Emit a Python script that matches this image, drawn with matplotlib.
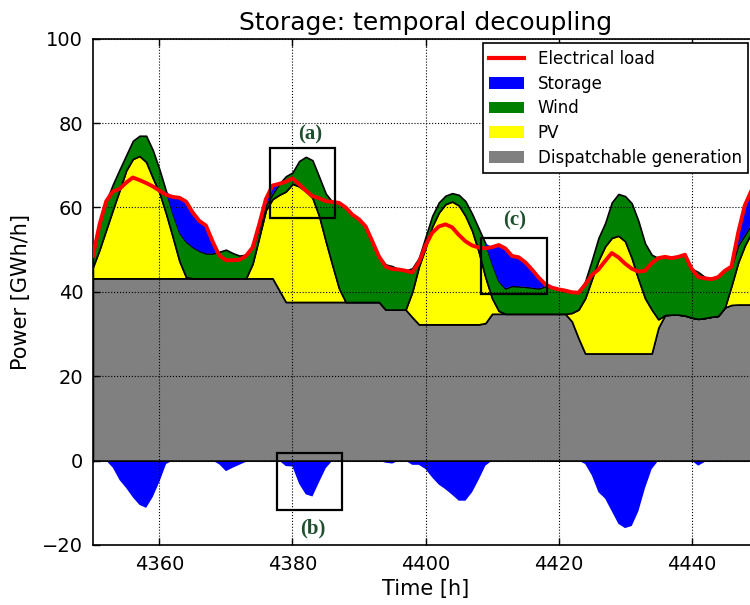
import matplotlib
matplotlib.use("Agg")
import matplotlib.pyplot as plt
import numpy as np
from matplotlib.lines import Line2D
from matplotlib.patches import Patch, Rectangle

# hourly values, GWh/h
hours = np.arange(4350, 4451)

dispatchable = [
    43.2, 43.2, 43.2, 43.2, 43.2, 43.2, 43.2, 43.2, 43.2, 43.2,
    43.2, 43.2, 43.2, 43.2, 43.2, 43.2, 43.2, 43.2, 43.2, 43.2,
    43.2, 43.2, 43.2, 43.2, 43.2, 43.2, 43.2, 43.2, 40.4, 37.6,
    37.6, 37.6, 37.6, 37.6, 37.6, 37.6, 37.6, 37.6, 37.6, 37.6,
    37.6, 37.6, 37.6, 37.6, 35.8, 35.8, 35.8, 35.8, 34.0, 32.3,
    32.3, 32.3, 32.3, 32.3, 32.3, 32.3, 32.3, 32.3, 32.3, 32.6,
    34.8, 34.8, 34.8, 34.8, 34.8, 34.8, 34.8, 34.8, 34.8, 34.8,
    34.8, 34.8, 33.0, 29.0, 25.4, 25.4, 25.4, 25.4, 25.4, 25.4,
    25.4, 25.4, 25.4, 25.4, 25.4, 31.5, 34.5, 34.6, 34.6, 34.4,
    33.9, 33.6, 33.8, 34.1, 34.3, 36.3, 36.9, 37.0, 37.0, 37.0,
    37.0,
]

pv = [
    2.7, 6.9, 11.6, 16.3, 20.9, 25.6, 28.3, 29.0, 27.6, 23.8,
    20.3, 15.3, 9.8, 4.1, 0.3, 0.0, 0.0, 0.0, 0.0, 0.0,
    0.0, 0.0, 0.0, 0.0, 3.5, 9.8, 16.2, 18.8, 22.6, 26.2,
    28.0, 27.4, 26.2, 24.7, 20.4, 14.4, 8.7, 3.2, 0.0, 0.0,
    0.0, 0.0, 0.0, 0.0, 0.0, 0.0, 0.0, 0.0, 6.0, 13.7,
    18.2, 23.2, 26.5, 28.5, 29.1, 28.2, 25.7, 22.2, 17.2, 10.9,
    3.7, 0.7, 0.0, 0.0, 0.0, 0.0, 0.0, 0.0, 0.0, 0.0,
    0.0, 0.0, 2.0, 6.8, 13.1, 17.6, 22.1, 25.4, 27.4, 27.9,
    26.6, 22.6, 17.6, 13.1, 10.4, 2.0, 0.0, 0.0, 0.0, 0.0,
    0.0, 0.0, 0.0, 0.0, 0.0, 0.0, 4.6, 10.0, 14.0, 17.0,
    20.0,
]

wind = [
    3.1, 5.9, 6.7, 6.0, 4.9, 3.6, 4.3, 4.8, 6.2, 6.6,
    5.5, 5.3, 5.5, 6.7, 8.4, 7.4, 6.5, 5.9, 5.9, 6.3,
    6.8, 6.0, 5.4, 5.6, 3.8, 2.0, 1.1, 1.2, 2.6, 3.6,
    2.7, 6.0, 8.2, 8.9, 9.3, 11.3, 15.0, 20.3, 22.4, 20.7,
    19.6, 17.9, 14.4, 10.8, 10.7, 10.3, 9.5, 9.2, 5.6, 2.0,
    2.5, 2.5, 2.4, 2.0, 2.0, 2.5, 3.5, 4.0, 5.5, 8.0,
    8.1, 7.0, 6.0, 6.6, 6.5, 6.4, 6.2, 6.0, 6.5, 6.2,
    5.8, 5.5, 4.9, 4.0, 4.0, 4.5, 5.3, 5.5, 8.4, 9.9,
    10.7, 13.0, 13.8, 13.0, 13.0, 14.5, 13.8, 13.4, 13.7, 14.4,
    11.6, 11.1, 9.7, 9.2, 9.5, 8.7, 4.5, 4.0, 2.5, 2.0,
    1.0,
]

# > 0: discharging, < 0: charging
storage = [
    -0.5, 0.0, 0.0, -1.7, -4.6, -6.5, -8.7, -10.5, -11.2, -8.6,
    -5.0, -0.8, 4.0, 8.3, 9.5, 8.2, 7.1, 6.6, 2.8, -0.9,
    -2.5, -1.7, -1.0, -0.3, 0.0, 1.0, 1.5, 2.0, 0.0, -1.3,
    -1.4, -5.5, -8.0, -8.5, -5.1, -1.8, 0.0, 0.0, 0.0, 0.0,
    0.0, 0.0, 0.0, 0.0, -0.5, -0.7, 0.0, 0.0, -1.0, -1.0,
    -2.0, -4.0, -5.7, -6.8, -8.1, -9.5, -9.5, -7.5, -4.5, -1.2,
    4.0, 8.6, 9.5, 7.1, 6.9, 5.8, 4.3, 2.6, 0.5, 0.0,
    0.0, 0.0, 0.0, 0.0, -0.8, -3.5, -7.5, -9.0, -12.0, -15.0,
    -16.0, -15.5, -12.0, -6.5, -2.0, 0.0, 0.0, 0.0, 0.0, 0.0,
    0.0, -1.2, -0.3, -0.3, -0.3, 0.0, 0.0, 3.0, 7.0, 8.0,
    8.0,
]

# highlighted windows: (label, hour range, power range)
highlights = [
    ("(a)", (4376.6, 4386.4), (57.4, 74.0)),
    ("(b)", (4377.7, 4387.5), (-11.6, 1.9)),
    ("(c)", (4408.4, 4418.3), (39.5, 52.7)),
]
label_pos = {"(a)": (4382.6, 77.4), "(b)": (4383.1, -16.1), "(c)": (4413.4, 56.8)}

disp = np.array(dispatchable)
pv_top = disp + np.array(pv)
gen_top = pv_top + np.array(wind)
stor = np.array(storage)
load = gen_top + stor

fig = plt.figure(figsize=(7.5, 6.05), dpi=100)
# axes run a little past the right edge of the canvas
ax = fig.add_axes([0.1239, 0.0992, 0.8869, 0.8368])

ax.fill_between(hours, np.minimum(stor, 0), 0, facecolor="#0000ff", edgecolor="none", lw=0)
ax.fill_between(hours, 0, disp, facecolor="#808080", edgecolor="black", lw=1.2)
ax.fill_between(hours, disp, pv_top, facecolor="#ffff00", edgecolor="black", lw=1.2)
ax.fill_between(hours, pv_top, gen_top, facecolor="#008000", edgecolor="black", lw=1.2)
ax.fill_between(hours, gen_top, gen_top + np.maximum(stor, 0),
                facecolor="#0000ff", edgecolor="none", lw=0)
ax.plot(hours, load, color="#ff0000", lw=2.8, zorder=3)

for name, (h0, h1), (v0, v1) in highlights:
    ax.add_patch(Rectangle((h0, v0), h1 - h0, v1 - v0, fill=False,
                           edgecolor="black", lw=1.6, zorder=4))
    tx, ty = label_pos[name]
    ax.text(tx, ty, name, ha="center", va="center", color="#1f4f2f",
            fontsize=15, fontweight="bold", family="Liberation Serif", zorder=4)

ax.set_xlim(4350, 4450)
ax.set_ylim(-20, 100)
ax.set_xticks([4360, 4380, 4400, 4420, 4440])
ax.set_yticks(np.arange(-20, 101, 20))
ax.tick_params(direction="in", top=True, right=True, length=5, width=1,
               labelsize=14, pad=7)
ax.grid(True, color="black", linestyle=":", lw=0.8)
ax.set_axisbelow(False)
for spine in ax.spines.values():
    spine.set_linewidth(1.2)

ax.set_title("Storage: temporal decoupling", fontsize=18, pad=6)
ax.set_xlabel("Time [h]", fontsize=15)
ax.set_ylabel("Power [GWh/h]", fontsize=15, labelpad=8)

handles = [
    Line2D([], [], color="#ff0000", lw=3),
    Patch(facecolor="#0000ff", edgecolor="none"),
    Patch(facecolor="#008000", edgecolor="none"),
    Patch(facecolor="#ffff00", edgecolor="none"),
    Patch(facecolor="#808080", edgecolor="none"),
]
labels = ["Electrical load", "Storage", "Wind", "PV", "Dispatchable generation"]
leg = ax.legend(handles, labels, loc="upper left", bbox_to_anchor=(0.586, 0.991),
                borderaxespad=0, fontsize=12, fancybox=False, framealpha=1,
                edgecolor="black", labelspacing=0.4, handlelength=2.1)
leg.get_frame().set_linewidth(1.2)
leg.set_zorder(5)

fig.savefig("out.png", dpi=100)
